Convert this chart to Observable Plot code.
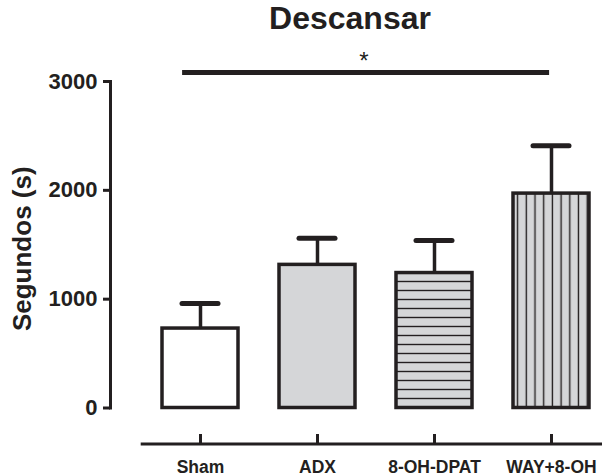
<!DOCTYPE html>
<html>
<head>
<meta charset="utf-8">
<script src="https://cdn.jsdelivr.net/npm/d3@7"></script>
<script src="https://cdn.jsdelivr.net/npm/@observablehq/plot@0.6"></script>
<style>
html, body { margin: 0; padding: 0; background: #fff; }
#title {
  box-sizing: border-box; width: 602px; height: 52px; line-height: 52px;
  padding-left: 98px; text-align: center;
  font: bold 32px "Liberation Sans", Arial, Helvetica, sans-serif; color: #231f20;
}
</style>
</head>
<body>
<svg width="0" height="0" style="position:absolute">
  <defs>
    <pattern id="hlines" patternUnits="userSpaceOnUse" width="10" height="9">
      <rect width="10" height="9" fill="#d5d6d8"></rect>
      <line x1="0" x2="10" y1="4.5" y2="4.5" stroke="#231f20" stroke-width="1.4"></line>
    </pattern>
    <pattern id="vlines" patternUnits="userSpaceOnUse" width="8.7" height="10">
      <rect width="8.7" height="10" fill="#d5d6d8"></rect>
      <line x1="4.3" x2="4.3" y1="0" y2="10" stroke="#231f20" stroke-width="1.4"></line>
    </pattern>
  </defs>
</svg>
<div id="title">Descansar</div>
<div id="chart"></div>
<script>
// ---- data ----
const groups = ["Sham", "ADX", "8-OH-DPAT", "WAY+8-OH"];
const means  = [730, 1315, 1240, 1970];
const sems   = [230, 245, 300, 440];
const yTicks = [0, 1000, 2000, 3000];
const yLabel = "Segundos (s)";
const sigFrom = "Sham";
const sigTo = "WAY+8-OH";
const sigText = "*";
const sigLevel = 3083;

// ---- styling ----
const ink = "#231f20";
const font = '"Liberation Sans", Arial, Helvetica, sans-serif';
const fillFor = {
  "Sham": "#ffffff",
  "ADX": "#d5d6d8",
  "8-OH-DPAT": "url(#hlines)",
  "WAY+8-OH": "url(#vlines)"
};

const data = groups.map((g, i) => ({group: g, mean: means[i], hi: means[i] + sems[i]}));
const sig = [{from: sigFrom, to: sigTo, level: sigLevel, label: sigText}];

const plot = Plot.plot({
  width: 602,
  height: 424,
  marginTop: 29,
  marginBottom: 68.5,
  marginLeft: 141.7,
  marginRight: 0,
  style: {fontFamily: font, color: ink, background: "#fff", overflow: "visible"},
  x: {domain: groups, paddingInner: 0.3515, paddingOuter: 0.1395, align: 0.609, axis: null},
  y: {domain: [0, 3000], axis: null},
  marks: [
    // y axis
    Plot.frame({anchor: "left", dx: -31.7, stroke: ink, strokeWidth: 3}),
    Plot.axisY({ticks: yTicks, tickSize: 7, tickPadding: 6, dx: -31.7, tickFormat: d => String(d),
      fontSize: 22, fontWeight: "bold", stroke: ink, strokeWidth: 3, fill: ink, label: null}),
    Plot.text([yLabel], {frameAnchor: "left", rotate: -90, dx: -111, dy: 4, textAnchor: "middle",
      lineAnchor: "bottom", fontSize: 26, fontWeight: "bold", fill: ink}),
    // x axis
    Plot.frame({anchor: "bottom", dy: 36, stroke: ink, strokeWidth: 3}),
    Plot.ruleX(groups, {x: d => d, dy: 36, insetTop: 317, stroke: ink, strokeWidth: 3}),
    Plot.text(groups, {x: d => d, frameAnchor: "bottom", lineAnchor: "bottom", dy: 64.5,
      fontSize: 17.5, fontWeight: "bold", fill: ink}),
    // bars
    Plot.barY(data, {x: "group", y: "mean", fill: d => fillFor[d.group], stroke: ink, strokeWidth: 3.5}),
    Plot.ruleX(data, {x: "group", y1: "mean", y2: "hi", stroke: ink, strokeWidth: 3.5}),
    Plot.tickY(data, {x: "group", y: "hi", stroke: ink, strokeWidth: 5, inset: 20, strokeLinecap: "round"}),
    // significance
    Plot.ruleY(sig, {x1: "from", x2: "to", y: "level", stroke: ink, strokeWidth: 5, insetLeft: 20.1, insetRight: 39.9}),
    Plot.text(sig, {x: "from", y: "level", text: "label", dx: 163.4, dy: -3, lineAnchor: "bottom",
      fontSize: 24, fill: ink})
  ]
});
document.getElementById("chart").appendChild(plot);
</script>
</body>
</html>
